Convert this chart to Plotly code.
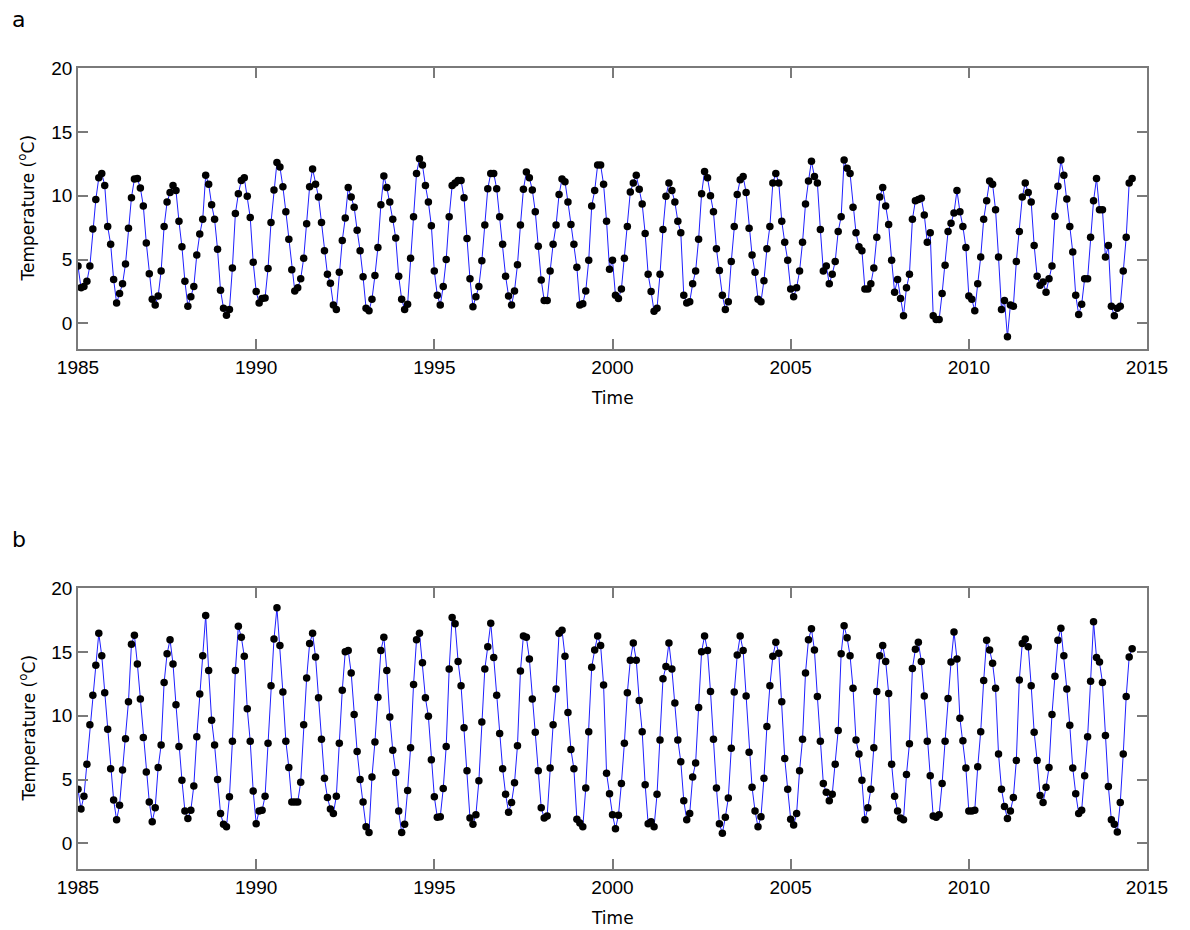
import plotly.graph_objects as go

start_year = 1985
months_per_year = 12

# Panel a: monthly temperature (degC), Jan 1985 - Aug 2014
temp_a = [
    4.5, 2.8, 2.9, 3.3, 4.5, 7.4, 9.7, 11.4, 11.75, 10.8, 7.6, 6.2,
    3.45, 1.6, 2.35, 3.1, 4.65, 7.45, 9.85, 11.3, 11.35, 10.6, 9.2, 6.3,
    3.9, 1.9, 1.45, 2.15, 4.1, 7.6, 9.5, 10.25, 10.8, 10.4, 8.0, 6.0,
    3.3, 1.35, 2.1, 2.9, 5.35, 7.0, 8.15, 11.6, 10.9, 9.3, 8.15, 5.8,
    2.6, 1.2, 0.65, 1.1, 4.35, 8.6, 10.15, 11.2, 11.4, 9.95, 8.3, 4.8,
    2.5, 1.6, 1.95, 2.0, 4.3, 7.9, 10.45, 12.6, 12.25, 10.7, 8.75, 6.6,
    4.2, 2.55, 2.8, 3.5, 5.1, 7.8, 10.7, 12.1, 10.9, 9.9, 7.9, 5.7,
    3.85, 3.15, 1.45, 1.1, 4.0, 6.5, 8.25, 10.65, 9.9, 9.1, 7.3, 5.7,
    3.65, 1.2, 1.0, 1.9, 3.75, 5.95, 9.3, 11.55, 10.65, 9.5, 8.15, 6.7,
    3.7, 1.9, 1.1, 1.5, 5.1, 8.35, 11.75, 12.9, 12.4, 10.8, 9.5, 7.65,
    4.1, 2.2, 1.45, 2.9, 5.0, 8.35, 10.8, 11.0, 11.2, 11.2, 9.85, 6.65,
    3.5, 1.3, 2.1, 2.9, 4.9, 7.7, 10.55, 11.75, 11.75, 10.55, 8.35, 6.2,
    3.7, 2.15, 1.45, 2.55, 4.6, 7.7, 10.5, 11.85, 11.4, 10.45, 8.75, 6.05,
    3.4, 1.8, 1.8, 4.1, 6.2, 7.7, 10.1, 11.3, 11.1, 9.5, 7.75, 6.2,
    4.4, 1.45, 1.55, 2.55, 4.95, 9.2, 10.4, 12.4, 12.4, 10.9, 8.0, 4.25,
    4.95, 2.2, 1.95, 2.7, 5.1, 7.6, 10.3, 11.0, 11.6, 10.5, 9.35, 7.05,
    3.85, 2.5, 0.95, 1.2, 3.85, 7.35, 9.95, 11.0, 10.4, 9.5, 8.0, 7.1,
    2.2, 1.6, 1.7, 3.1, 4.1, 6.6, 10.15, 11.9, 11.4, 10.0, 8.75, 5.85,
    4.15, 2.2, 1.1, 1.7, 4.85, 7.6, 10.1, 11.25, 11.5, 10.25, 7.45, 5.35,
    4.0, 1.9, 1.7, 3.35, 5.85, 7.6, 11.0, 11.75, 11.0, 8.0, 6.35, 4.95,
    2.7, 2.1, 2.8, 4.1, 6.35, 9.35, 11.15, 12.7, 11.5, 11.0, 7.35, 4.1,
    4.5, 3.1, 3.85, 4.85, 7.2, 8.35, 12.8, 12.15, 11.75, 9.1, 7.1, 6.0,
    5.7, 2.7, 2.7, 3.1, 4.35, 6.75, 9.9, 10.65, 9.2, 7.75, 4.95, 2.45,
    3.45, 1.95, 0.6, 2.8, 3.85, 8.15, 9.6, 9.7, 9.8, 8.5, 6.35, 7.1,
    0.6, 0.3, 0.3, 2.35, 4.55, 7.2, 7.85, 8.65, 10.4, 8.75, 7.6, 5.95,
    2.15, 1.9, 1.0, 3.1, 5.2, 8.15, 9.6, 11.15, 10.9, 8.9, 5.2, 1.1,
    1.8, -1.05, 1.45, 1.35, 4.85, 7.2, 9.9, 11.0, 10.25, 9.5, 6.1, 3.7,
    3.0, 3.25, 2.45, 3.5, 4.5, 8.4, 10.75, 12.8, 11.6, 9.75, 7.6, 5.6,
    2.2, 0.7, 1.5, 3.5, 3.5, 6.75, 9.6, 11.35, 8.9, 8.9, 5.2, 6.1,
    1.35, 0.6, 1.2, 1.35, 4.1, 6.75, 11.0, 11.35,
]

# Panel b: monthly temperature (degC), Jan 1985 - Aug 2014
temp_b = [
    4.25, 2.7, 3.7, 6.2, 9.3, 11.6, 13.95, 16.45, 14.7, 11.8, 8.95, 5.85,
    3.4, 1.85, 3.0, 5.75, 8.2, 11.1, 15.6, 16.3, 14.05, 11.3, 8.3, 5.6,
    3.25, 1.7, 2.8, 5.95, 7.7, 12.6, 14.85, 15.95, 14.05, 10.85, 7.6, 4.95,
    2.55, 1.95, 2.6, 4.5, 8.35, 11.7, 14.7, 17.85, 13.55, 9.65, 7.7, 5.0,
    2.35, 1.5, 1.3, 3.65, 8.0, 13.55, 17.0, 16.15, 14.65, 10.55, 8.0, 4.1,
    1.55, 2.55, 2.6, 3.7, 7.85, 12.35, 16.0, 18.45, 15.5, 11.85, 8.0, 5.95,
    3.25, 3.25, 3.25, 4.8, 9.3, 12.95, 15.65, 16.45, 14.6, 11.4, 8.15, 5.1,
    3.6, 2.7, 2.35, 3.7, 7.85, 12.0, 15.0, 15.1, 13.35, 10.1, 7.2, 5.0,
    3.25, 1.3, 0.85, 5.2, 7.95, 11.45, 15.1, 16.15, 13.55, 9.9, 7.3, 5.55,
    2.55, 0.85, 1.5, 4.15, 7.5, 12.45, 15.95, 16.45, 14.15, 11.4, 9.95, 6.55,
    3.65, 2.05, 2.1, 4.3, 7.6, 13.65, 17.7, 17.2, 14.25, 12.35, 9.05, 5.7,
    2.0, 1.5, 2.25, 4.9, 9.5, 13.65, 15.4, 17.25, 14.55, 11.6, 8.6, 5.85,
    3.85, 2.45, 3.2, 4.75, 7.65, 13.5, 16.25, 16.15, 14.45, 11.3, 8.7, 5.7,
    2.8, 2.0, 2.15, 5.9, 9.3, 12.1, 16.45, 16.7, 14.65, 10.25, 7.35, 5.85,
    1.9, 1.6, 1.3, 4.35, 8.75, 13.8, 15.15, 16.25, 15.5, 12.4, 5.5, 3.9,
    2.25, 1.15, 2.2, 4.7, 7.85, 11.8, 14.35, 15.7, 14.35, 11.2, 8.75, 4.6,
    1.55, 1.7, 1.3, 3.85, 8.1, 12.9, 13.85, 15.7, 13.65, 11.0, 8.1, 6.4,
    3.35, 1.85, 2.35, 5.2, 6.3, 10.65, 15.0, 16.25, 15.1, 11.9, 8.15, 4.35,
    1.55, 0.8, 2.05, 3.55, 7.45, 11.85, 14.75, 16.25, 15.1, 11.55, 7.15, 4.4,
    2.55, 1.3, 2.1, 5.1, 9.15, 12.35, 14.65, 15.75, 14.9, 11.1, 6.65, 4.25,
    1.9, 1.45, 2.35, 5.7, 8.15, 13.35, 15.95, 16.8, 15.15, 11.5, 8.0, 4.7,
    4.0, 3.35, 3.85, 6.2, 8.85, 14.85, 17.05, 16.1, 14.7, 12.15, 8.1, 7.0,
    4.95, 1.85, 2.8, 4.25, 7.5, 11.9, 14.7, 15.5, 14.25, 11.75, 6.2, 3.7,
    2.55, 2.0, 1.85, 5.4, 7.8, 13.7, 15.2, 15.75, 14.25, 11.55, 8.0, 5.3,
    2.15, 2.05, 2.25, 4.7, 8.0, 11.35, 14.2, 16.55, 14.45, 9.8, 8.05, 5.9,
    2.55, 2.55, 2.6, 6.0, 8.75, 12.75, 15.9, 15.15, 14.1, 12.15, 7.0, 4.25,
    2.9, 1.95, 2.55, 3.6, 6.5, 12.8, 15.65, 16.0, 15.4, 12.35, 8.7, 6.5,
    3.75, 3.2, 4.4, 5.95, 10.1, 13.1, 15.9, 16.85, 14.7, 12.1, 9.25, 5.9,
    3.9, 2.35, 2.6, 5.3, 8.35, 12.7, 17.35, 14.55, 14.2, 12.6, 8.45, 4.45,
    1.85, 1.5, 0.9, 3.2, 7.0, 11.5, 14.6, 15.25,
]

x_ticks = [1985, 1990, 1995, 2000, 2005, 2010, 2015]
y_ticks = [0, 5, 10, 15, 20]
panel_labels = ["a", "b"]

time_a = [start_year + i / months_per_year for i in range(len(temp_a))]
time_b = [start_year + i / months_per_year for i in range(len(temp_b))]

fig = go.Figure()
for t, v, xa, ya in [(time_a, temp_a, "x", "y"), (time_b, temp_b, "x2", "y2")]:
    fig.add_trace(go.Scatter(
        x=t, y=v, xaxis=xa, yaxis=ya, mode="lines+markers",
        line=dict(color="#1f1fff", width=1),
        marker=dict(color="black", size=7.5),
        showlegend=False, hoverinfo="skip",
    ))

W, H = 1190, 930
xdom = [78 / W, 1147 / W]
ydom_a = [1 - 349 / H, 1 - 68 / H]
ydom_b = [1 - 869 / H, 1 - 588 / H]

tick_font = dict(family="Liberation Sans, Arial, sans-serif", size=19, color="black")
axis_common = dict(
    showline=True, linecolor="#7a7a7a", linewidth=1.5, mirror="ticks",
    ticks="inside", ticklen=10, tickcolor="#7a7a7a", tickwidth=1.5,
    showgrid=False, zeroline=False, tickfont=tick_font, automargin=False,
)

title_font = dict(family="DejaVu Sans, Verdana, sans-serif", size=17, color="black")

fig.update_layout(
    width=W, height=H,
    margin=dict(l=0, r=0, t=0, b=0, autoexpand=False),
    paper_bgcolor="white", plot_bgcolor="white",
    xaxis=dict(domain=xdom, anchor="y", range=[1985, 2015], tickvals=x_ticks, **axis_common),
    yaxis=dict(domain=ydom_a, anchor="x", range=[-2, 20], tickvals=y_ticks, **axis_common),
    xaxis2=dict(domain=xdom, anchor="y2", range=[1985, 2015], tickvals=x_ticks, **axis_common),
    yaxis2=dict(domain=ydom_b, anchor="x2", range=[-2, 20], tickvals=y_ticks, **axis_common),
)

annotations = []
for ydom, lab in [(ydom_a, panel_labels[0]), (ydom_b, panel_labels[1])]:
    annotations.append(dict(
        text="Time", xref="paper", yref="paper",
        x=(xdom[0] + xdom[1]) / 2, y=ydom[0] - 37 / H, yanchor="top", xanchor="center",
        showarrow=False, font=title_font,
    ))
    annotations.append(dict(
        text="Temperature (<sup>o</sup>C)", xref="paper", yref="paper",
        x=27 / W, y=(ydom[0] + ydom[1]) / 2, xanchor="center", yanchor="middle",
        textangle=-90, showarrow=False, font=title_font,
    ))
    annotations.append(dict(
        text=lab, xref="paper", yref="paper",
        x=10 / W, y=ydom[1] + 48 / H, xanchor="left", yanchor="middle",
        showarrow=False, font=dict(family="DejaVu Sans, Verdana, sans-serif", size=22, color="black"),
    ))
fig.update_layout(annotations=annotations)

fig.write_html("out.html")
